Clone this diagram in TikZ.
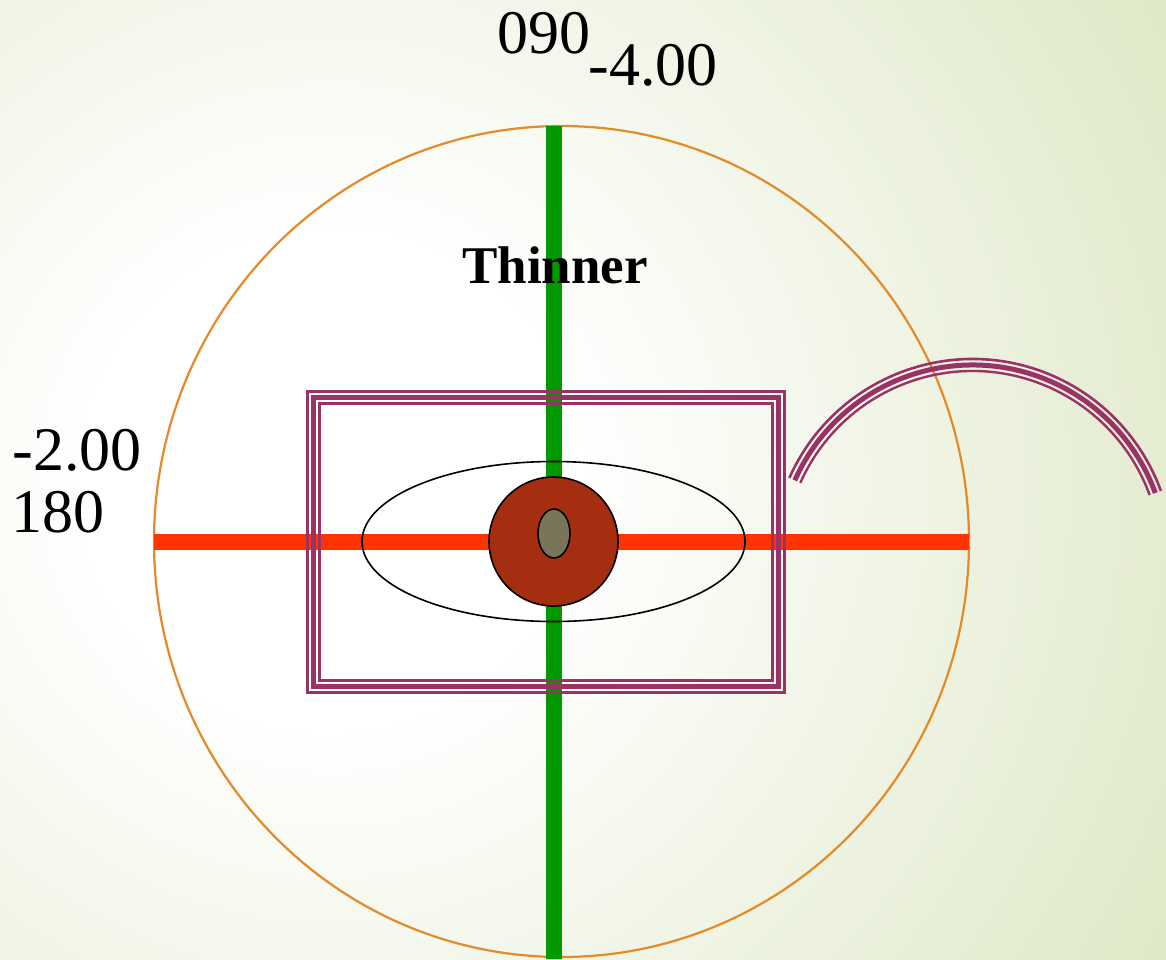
\documentclass[tikz,border=0pt]{standalone}
\usepackage{fontspec}
\setmainfont{Liberation Serif}
\usetikzlibrary{positioning}

\definecolor{bggreen}{RGB}{221,231,196}
\definecolor{ringorange}{RGB}{228,138,40}
\definecolor{axisgreen}{RGB}{0,153,0}
\definecolor{axisred}{RGB}{255,51,0}
\definecolor{corebrown}{RGB}{165,46,16}
\definecolor{eyeolive}{RGB}{122,116,88}
\definecolor{bandplum}{RGB}{153,51,102}

% the middle 50bp of a shading fills the path
\pgfdeclareradialshading{bgglow}{\pgfpoint{0bp}{0bp}}{color(0bp)=(white); color(6bp)=(white); color(25bp)=(bggreen); color(50bp)=(bggreen)}

\tikzset{
  strand/.style={draw=bandplum},
  bignum/.style={inner sep=0pt,anchor=base west,font=\fontsize{62}{62}\selectfont},
}

\begin{document}
\begin{tikzpicture}[x=1pt,y=-1pt,line cap=butt,line join=miter]
  \useasboundingbox (0,0) rectangle (1166,959);
  \begin{scope}
    \clip (0,0) rectangle (1166,959);
    \shade[shading=bgglow] (-670,-520) rectangle (1330,1480);
  \end{scope}

  \coordinate (O) at (553.5,541.5);
  \coordinate (ring) at (561.5,541.5);
  \coordinate (N) at (553.5,126);
  \coordinate (S) at (553.5,959);
  \coordinate (W) at (154,541.5);
  \coordinate (E) at (969,541.5);
  \coordinate (eye) at (554,533.5);
  \coordinate (arcC) at (972.5,559.5);

  \draw[ringorange,line width=2.2pt] (ring) ellipse [x radius=407.5,y radius=415.5];
  \draw[axisgreen,line width=16pt] (N)--(S);
  \draw[axisred,line width=16pt] (W)--(E);

  % triple band: thin, thick, thin
  \foreach \off/\lw in {-6/2.6,0/5,6/2.4}{
    \draw[strand,line width=\lw pt] (313.5+\off,397.5+\off) rectangle (778.5-\off,686.5-\off);
    \draw[strand,line width=\lw pt] ([shift={(-156:194.5-\off)}]arcC) arc [start angle=-156,end angle=-20,radius=194.5-\off];
  }

  \draw[line width=1.6pt] (O) ellipse [x radius=191.5,y radius=80];
  \draw[line width=1.6pt,fill=corebrown] (O) circle [radius=64.5];
  \draw[line width=1.6pt,fill=eyeolive] (eye) ellipse [x radius=16,y radius=24.5];

  \node[bignum] (deg090) at (497.5,53) {090};
  \node[bignum] (valnorth) at (588.5,85) {-4.00};
  \node[bignum] (valwest) at (12.5,470) {-2.00};
  \node[bignum] (deg180) at (11.5,532) {180};
  \node[inner sep=0pt,anchor=base,font=\bfseries\fontsize{53}{53}\selectfont] (thinner) at (555,283) {Thinner};
\end{tikzpicture}
\end{document}
